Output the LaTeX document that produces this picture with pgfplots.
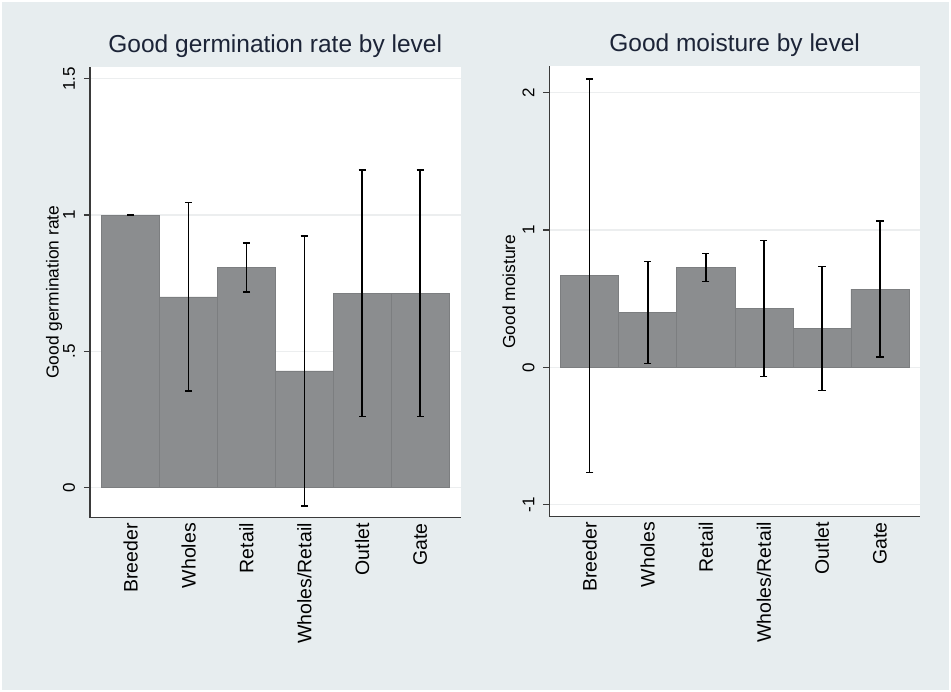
\documentclass[border=0pt]{standalone}
\usepackage{fontspec}
\setmainfont{Liberation Sans}
\usepackage{pgfplots}
\usepackage{pgfplotstable}
\pgfplotsset{compat=1.18}
\definecolor{bgc}{HTML}{E7EDEF}
\definecolor{barc}{HTML}{8B8D8F}
\definecolor{bare}{HTML}{7C7E80}
\definecolor{titc}{HTML}{1C2437}
\definecolor{axc}{HTML}{3A3A3A}
\definecolor{gridc}{HTML}{ECEEEF}

\pgfplotstableread{
x y e
1 1.000 0.000
2 0.700 0.346
3 0.807 0.090
4 0.4286 0.495
5 0.714 0.452
6 0.714 0.452
}\germ

\pgfplotstableread{
x y e
1 0.667 1.434
2 0.398 0.371
3 0.727 0.101
4 0.427 0.495
5 0.2825 0.4525
6 0.570 0.496
}\moist

\pgfplotsset{
  stata/.style={
    scale only axis,
    axis background/.style={fill=white},
    axis x line*=bottom, axis y line*=left,
    axis line style={axc, line width=1.1pt, -},
    ymajorgrids, grid style={gridc, line width=1.2pt},
    xtick={1,2,3,4,5,6},
    xticklabels={Breeder,Wholes,Retail,Wholes/Retail,Outlet,Gate},
    xticklabel style={yshift=4pt, rotate=90, anchor=east, font=\fontsize{19.5}{20}\selectfont},
    xtick style={draw=none},
    ytick style={axc, line width=1.1pt},
    tick align=outside, major tick length=6pt,
    yticklabel style={xshift=-9pt, rotate=90, anchor=base, font=\fontsize{17}{18}\selectfont},
    title style={font=\fontsize{24.5}{28}\selectfont, color=titc, at={(0.5,1)}, anchor=base, yshift=8.5pt},
    ylabel style={font=\fontsize{17.4}{18}\selectfont, anchor=base},
    enlargelimits=false,
  },
  sbar/.style={ybar, bar width=1, fill=barc, draw=bare, line width=0.6pt,
    error bars/.cd, y dir=both, y explicit,
    error bar style={line width=1.5pt, black},
    error mark options={rotate=90, mark size=3.6pt, line width=1.5pt, black}},
}

\begin{document}
\begin{tikzpicture}
\fill[white] (0pt,0pt) rectangle (951pt,692pt);
\fill[bgc] (2pt,2pt) rectangle (949pt,690pt);
\useasboundingbox (0pt,0pt) rectangle (951pt,692pt);
\begin{axis}[stata, at={(90pt,174.3pt)}, anchor=south west,
  width=370.5pt, height=451pt,
  xmin=0.298, xmax=6.697, ymin=-0.110, ymax=1.544,
  ytick={0,0.5,1,1.5}, yticklabels={0,.5,1,1.5},
  title={Good germination rate by level},
  ylabel={Good germination rate},
  ylabel style={at={(axis description cs:-0.085,0.5)}}]
\addplot[sbar] table[x=x, y=y, y error=e]{\germ};
\end{axis}
\begin{axis}[stata, at={(549.3pt,175.3pt)}, anchor=south west,
  width=370.7pt, height=450.2pt,
  xmin=0.304, xmax=6.69, ymin=-1.088, ymax=2.191,
  ytick={-1,0,1,2}, yticklabels={-1,0,1,2},
  title={Good moisture by level},
  ylabel={Good moisture},
  ylabel style={at={(axis description cs:-0.0925,0.5)}}]
\addplot[sbar] table[x=x, y=y, y error=e]{\moist};
\end{axis}
\end{tikzpicture}
\end{document}
